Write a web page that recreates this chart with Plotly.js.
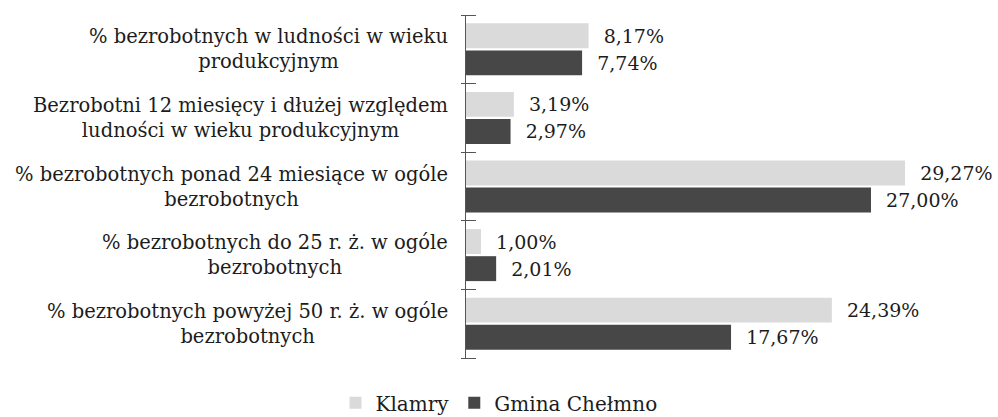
<!DOCTYPE html>
<html>
<head>
<meta charset="utf-8">
<script src="https://cdn.plot.ly/plotly-3.0.1.min.js"></script>
<style>html,body{margin:0;padding:0;background:#fff;}</style>
</head>
<body>
<div id="chart" style="width:998px;height:417px;"></div>
<script>
const categories = [
  '% bezrobotnych w ludności w wieku<br>produkcyjnym',
  'Bezrobotni 12 miesięcy i dłużej względem<br>ludności w wieku produkcyjnym',
  '% bezrobotnych ponad 24 miesiące w ogóle<br>bezrobotnych',
  '% bezrobotnych do 25 r. ż. w ogóle<br>bezrobotnych',
  '% bezrobotnych powyżej 50 r. ż. w ogóle<br>bezrobotnych'
];
const seriesNames = ['Klamry', 'Gmina Chełmno'];
const klamry = [8.17, 3.19, 29.27, 1.00, 24.39];
const chelmno = [7.74, 2.97, 27.00, 2.01, 17.67];

const FONT = 'DejaVu Serif';
const TEXTCOL = '#1c1c1c';
const fmt = v => '\u00a0\u00a0' + v.toFixed(2).replace('.', ',') + '%';

function barTrace(name, values, color) {
  return {
    type: 'bar', orientation: 'h', name: name,
    x: values, y: categories,
    marker: {color: color},
    text: values.map(fmt),
    textposition: 'outside',
    constraintext: 'none',
    cliponaxis: false,
    textfont: {family: FONT, size: 19, color: TEXTCOL},
    hoverinfo: 'skip'
  };
}

const data = [
  barTrace(seriesNames[0], klamry, '#dadada'),
  barTrace(seriesNames[1], chelmno, '#474747'),
  // empty helper trace so the overlay axis (crossing tick marks) is drawn
  {type: 'scatter', mode: 'markers', x: [], y: [], yaxis: 'y2', showlegend: false, hoverinfo: 'skip'}
];

const annotations = categories.map(c => ({
  xref: 'paper', yref: 'y', x: 0, y: c,
  xanchor: 'right', yanchor: 'middle', xshift: -16,
  text: c, align: 'center', showarrow: false,
  font: {family: FONT, size: 19.5, color: TEXTCOL}
}));

const n = categories.length;
const boundaries = Array.from({length: n + 1}, (_, i) => i - 0.5);

const layout = {
  width: 998, height: 417,
  margin: {l: 466, r: 52, t: 15, b: 59},
  paper_bgcolor: '#fff', plot_bgcolor: '#fff',
  barmode: 'group', bargap: 0.21, bargroupgap: 0.08,
  font: {family: FONT, size: 19, color: TEXTCOL},
  xaxis: {range: [0, 32], showgrid: false, zeroline: false, showline: false,
          showticklabels: false, ticks: '', fixedrange: true},
  yaxis: {autorange: 'reversed', showline: true, linecolor: '#555', linewidth: 1,
          ticks: '', showticklabels: false, showgrid: false, zeroline: false},
  yaxis2: {type: 'linear', overlaying: 'y', side: 'left', anchor: 'free', position: 0, shift: 10,
           range: [n - 0.5, -0.5], tickmode: 'array', tickvals: boundaries,
           showline: false, ticks: 'outside', ticklen: 15, tickcolor: '#555', tickwidth: 1,
           showticklabels: false, showgrid: false, zeroline: false},
  showlegend: true,
  legend: {orientation: 'h', xref: 'container', yref: 'container',
           x: 0.5, xanchor: 'center', y: 0.034, yanchor: 'middle',
           font: {family: FONT, size: 20, color: TEXTCOL}, itemwidth: 30},
  annotations: annotations
};

Plotly.newPlot('chart', data, layout, {displayModeBar: false, staticPlot: true});
</script>
</body>
</html>
